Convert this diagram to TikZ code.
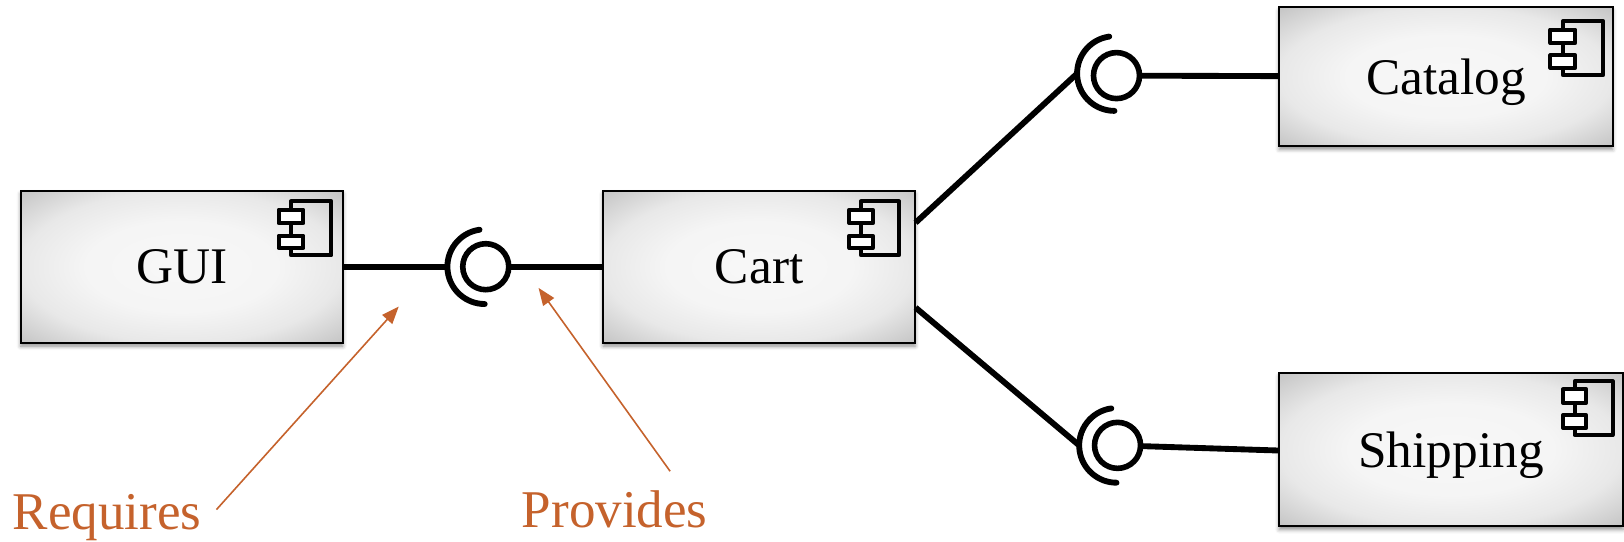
\documentclass[tikz,border=0pt]{standalone}
\usepackage{fontspec}
\setmainfont{Liberation Serif}
\usetikzlibrary{arrows.meta,shadows.blur}
\definecolor{notecolor}{HTML}{C5622C}
\pgfdeclareradialshading{boxshade}{\pgfpoint{0bp}{0bp}}{color(0bp)=(white!97!black); color(15bp)=(white!96!black); color(25bp)=(white!91!black); color(35.4bp)=(white!77!black); color(50bp)=(white!77!black)}
\tikzset{
	compbox/.style={draw=black,line width=1.6pt,shading=boxshade,inner sep=0pt,outer sep=0pt,text depth=0pt,font=\fontsize{38.5}{38.5}\selectfont,
		blur shadow={shadow xshift=0pt,shadow yshift=-2.5pt,shadow blur radius=3pt,shadow opacity=45}},
	wire/.style={line width=4.4pt},
	socket/.style={circle,inner sep=0pt,outer sep=0pt,minimum size=56pt},
	ball/.style={circle,draw=black,fill=white,line width=4.2pt,inner sep=0pt,outer sep=1.9pt,minimum size=34.5pt},
	note/.style={text=notecolor,inner sep=0pt,font=\fontsize{39.8}{39.8}\selectfont,anchor=base},
	notearrow/.style={draw=notecolor,line width=1.2pt,-{Triangle[length=13pt,width=10pt]}},
	compicon/.pic={
		\draw [line width=3pt,line join=round] (-39,0) rectangle (0,52);
		\draw [line width=3pt,line join=round,fill=white] (-51,8) rectangle (-27,21);
		\draw [line width=3pt,line join=round,fill=white] (-51,33) rectangle (-27,45);
	}
}
\begin{document}
\begin{tikzpicture}[x=0.7768pt,y=-0.7768pt]
	\useasboundingbox (0,0) rectangle (1568,523.2);
	\node [compbox,minimum width=241.6pt,minimum height=114.2pt] (gui) at (175.5,257.5) {GUI};
	\node [compbox,minimum width=234pt,minimum height=114.2pt] (cart) at (733,257.5) {Cart};
	\node [compbox,minimum width=250.1pt,minimum height=104.1pt] (catalog) at (1396,74) {Catalog};
	\node [compbox,minimum width=257.9pt,minimum height=115pt] (shipping) at (1401,434) {Shipping};
	\pic at (320,194.5) {compicon};
	\pic [xscale=0.94] at (868,194.5) {compicon};
	\pic at (1548,20.5) {compicon};
	\pic [xscale=0.94] at (1557,368) {compicon};
	\node [socket] (guisocket) at (468,257.5) {};
	\node [socket] (catalogsocket) at (1076,71) {};
	\node [socket] (shippingsocket) at (1078,430) {};
	\node [ball] (guiball) at (469,257.5) {};
	\node [ball] (catalogball) at (1078,73) {};
	\node [ball] (shippingball) at (1079,430) {};
	\foreach \port in {guisocket,catalogsocket,shippingsocket}
		\draw [wire,line cap=round] (\port.98) arc (98:270:28pt);
	\coordinate (cartupper) at (884,215);
	\coordinate (cartlower) at (884,297);
	\coordinate (cataloginput) at (1235,73.5);
	\coordinate (shippinginput) at (1235,435);
	\draw [wire] (gui.east) -- (guisocket.west);
	\draw [wire] (guiball) -- (cart.west);
	\draw [wire] (cartupper) -- (catalogsocket.west);
	\draw [wire] (cartlower) -- (shippingsocket.west);
	\draw [wire] (catalogball) -- (cataloginput);
	\draw [wire] (shippingball) -- (shippinginput);
	\node [note] (requires) at (103.5,511) {Requires};
	\node [note] (provides) at (593.5,509) {Provides};
	\coordinate (requirestail) at (209,492);
	\coordinate (requirestip) at (385,296);
	\coordinate (providestail) at (647,455);
	\coordinate (providestip) at (520,278);
	\draw [notearrow] (requirestail) -- (requirestip);
	\draw [notearrow] (providestail) -- (providestip);
\end{tikzpicture}
\end{document}
